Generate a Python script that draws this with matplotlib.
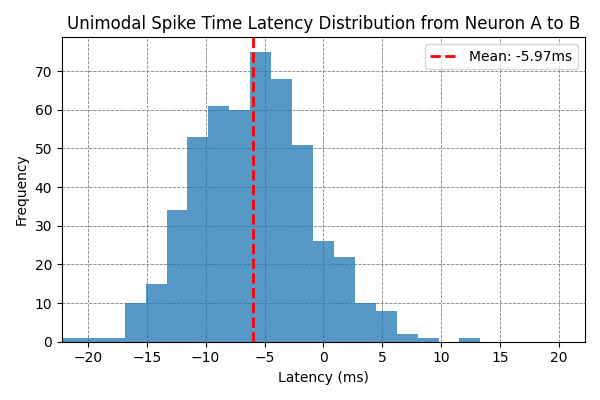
import matplotlib
matplotlib.use("Agg")
import matplotlib.pyplot as plt
import numpy as np

# histogram counts (25 equal bins over the x range)
counts = [1, 1, 1, 10, 15, 34, 53, 61, 60, 75, 68, 51, 26, 22, 10, 8, 2, 1, 0, 1, 0, 0, 0, 0, 0]
x_min, x_max = -22.2, 22.2
mean_latency = -5.97

edges = np.linspace(x_min, x_max, len(counts) + 1)

fig, ax = plt.subplots(figsize=(6, 4), dpi=100)
ax.bar(edges[:-1], counts, width=np.diff(edges), align="edge",
       color="#1f77b4", alpha=0.75, zorder=2)
ax.axvline(mean_latency, color="red", ls="--", lw=2,
           label=f"Mean: {mean_latency:.2f}ms", zorder=3)
ax.set_xlim(x_min, x_max)
ax.set_xticks([-20, -15, -10, -5, 0, 5, 10, 15, 20])
ax.grid(True, ls="--", lw=0.6, color="gray", zorder=0)
ax.set_axisbelow(True)
ax.set_xlabel("Latency (ms)")
ax.set_ylabel("Frequency")
ax.set_title("Unimodal Spike Time Latency Distribution from Neuron A to B")
ax.legend(loc="upper right")
fig.tight_layout()
fig.savefig("out.png", dpi=100)
